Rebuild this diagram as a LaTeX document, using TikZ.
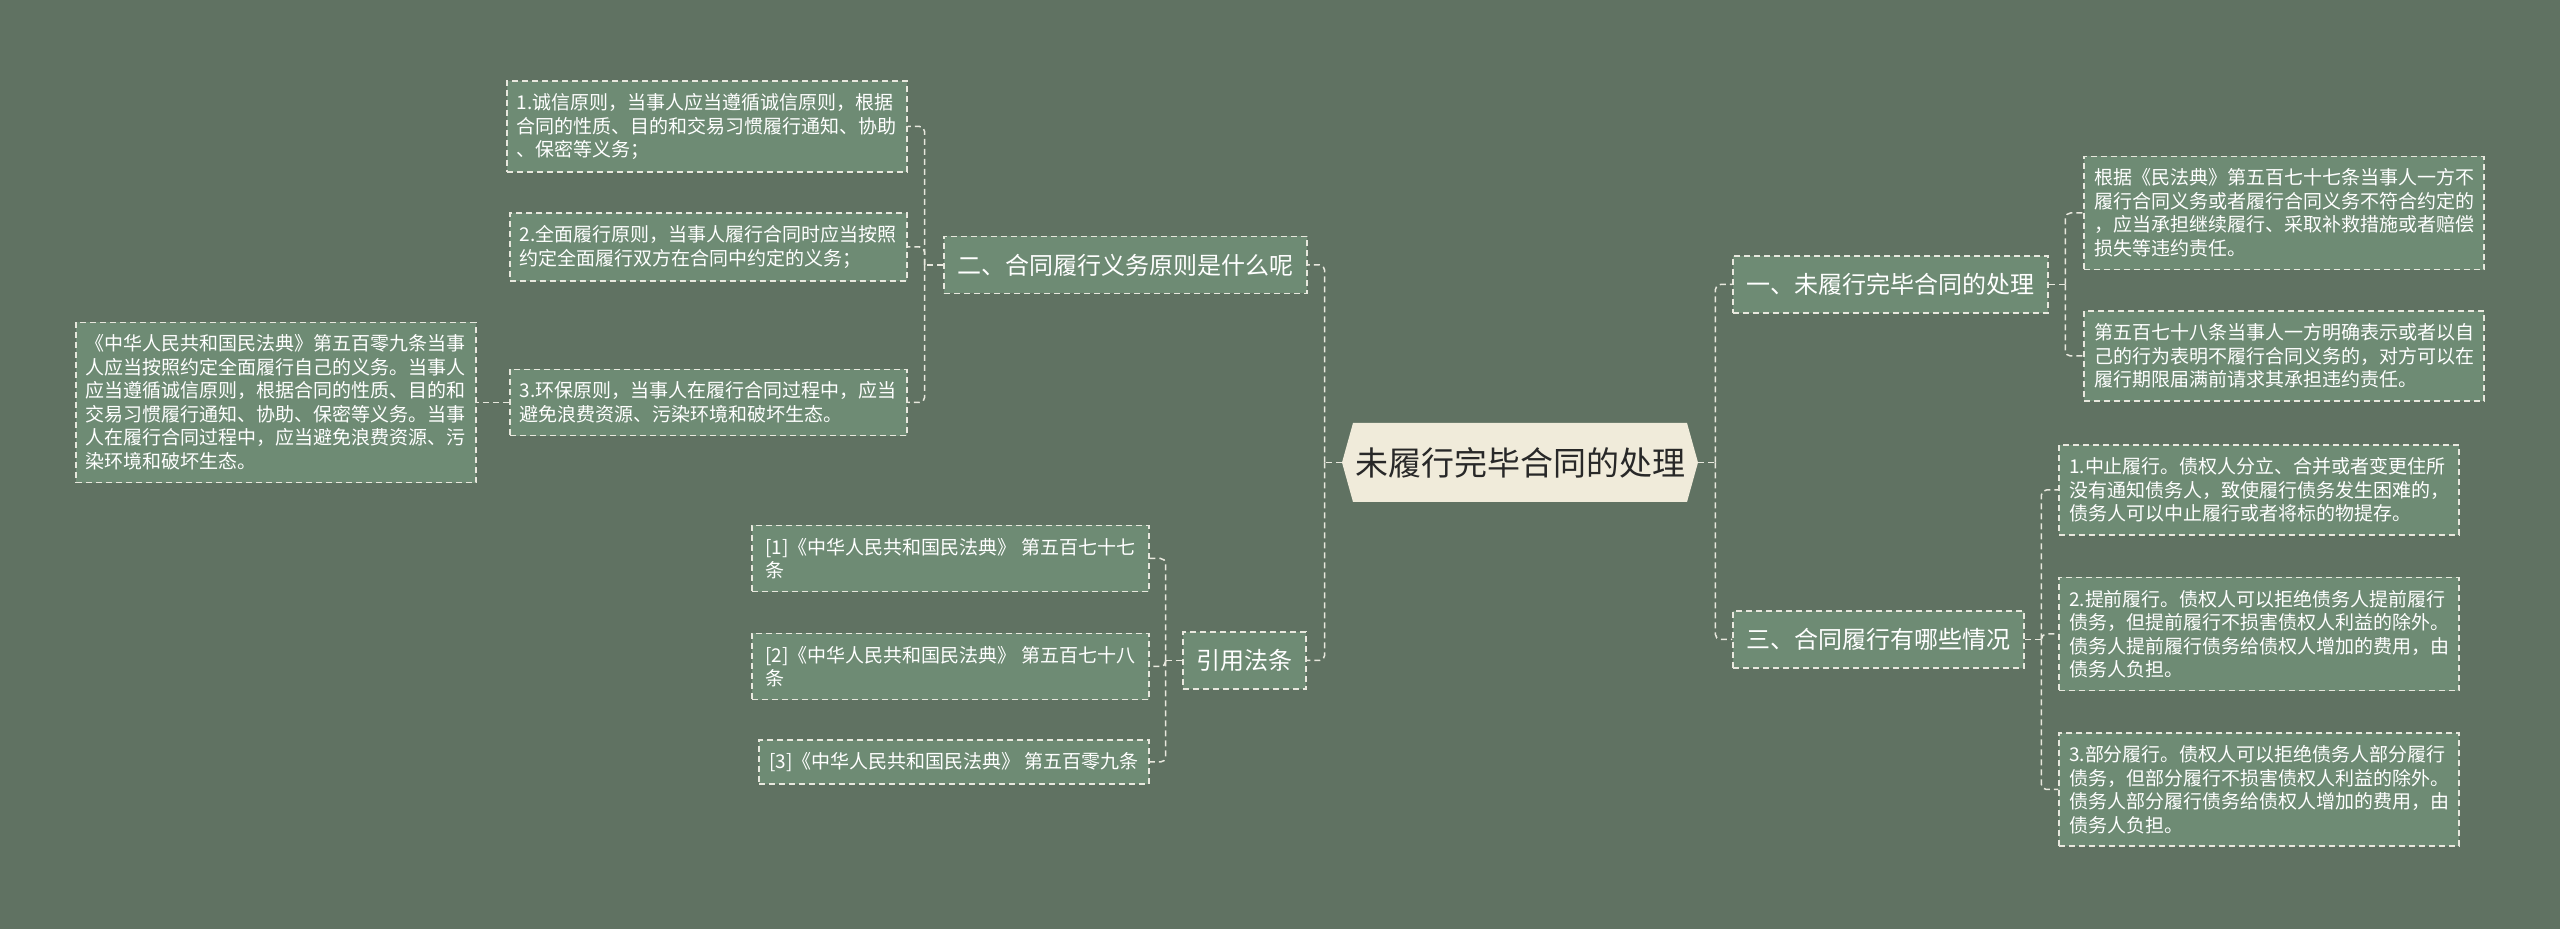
\documentclass[tikz,border=0pt]{standalone}
\usepackage{fontspec}
\setmainfont{Noto Sans CJK SC}
\usetikzlibrary{calc}
\definecolor{bgcol}{RGB}{96,114,98}
\definecolor{boxcol}{RGB}{110,139,116}
\definecolor{linecol}{RGB}{232,232,222}
\definecolor{rootfill}{RGB}{240,235,218}
\definecolor{roottext}{RGB}{40,40,40}
\tikzstyle{linkline} = [draw=linecol, line width=0.75pt, dash pattern=on 3pt off 2pt, rounded corners=2.5pt]
\tikzstyle{boxbase} = [draw=linecol, line width=0.75pt, dash pattern=on 3pt off 2pt, fill=boxcol, text=white]
\tikzstyle{topicnode} = [boxbase, font=\fontsize{12pt}{14pt}\selectfont, minimum height=28.5pt, inner xsep=6.75pt, inner ysep=0pt]
\tikzstyle{leafnode} = [boxbase, font=\fontsize{9.5pt}{11.75pt}\selectfont, align=left, minimum width=198.5pt, inner xsep=5pt, inner ysep=6.25pt]
\tikzstyle{rootnode} = [fill=bgcol, text=roottext, font=\fontsize{16.5pt}{20pt}\selectfont, minimum width=178pt, minimum height=39.5pt, inner xsep=4pt,
  path picture={\fill[rootfill] ([xshift=5.5pt]path picture bounding box.north west) -- ([xshift=-5.5pt]path picture bounding box.north east)
    -- (path picture bounding box.east) -- ([xshift=-5.5pt]path picture bounding box.south east)
    -- ([xshift=5.5pt]path picture bounding box.south west) -- (path picture bounding box.west) -- cycle;}]

\begin{document}
\begin{tikzpicture}[x=0.5pt, y=-0.5pt]
    \fill[bgcol] (0,0) rectangle (2560,929);
    \node[rootnode] (root) at (1520,462.5) {未履行完毕合同的处理};

    % left side
    \node[topicnode, anchor=east] (sec_two) at ($(root.west)+(-34,-197.5)$) {二、合同履行义务原则是什么呢};
    \node[topicnode, anchor=east] (sec_cite) at ($(root.west)+(-35,198)$) {引用法条};
    \node[leafnode, anchor=east] (prin_a) at ($(root.west)+(-434,-336)$) {1.诚信原则，当事人应当遵循诚信原则，根据\\合同的性质、目的和交易习惯履行通知、协助\\、保密等义务；};
    \node[leafnode, anchor=east] (prin_b) at ($(root.west)+(-434,-215.5)$) {2.全面履行原则，当事人履行合同时应当按照\\约定全面履行双方在合同中约定的义务；};
    \node[leafnode, anchor=east] (prin_c) at ($(root.west)+(-434,-60)$) {3.环保原则，当事人在履行合同过程中，应当\\避免浪费资源、污染环境和破坏生态。};
    \node[leafnode, anchor=east] (prin_note) at ($(root.west)+(-865,-60)$) {《中华人民共和国民法典》第五百零九条当事\\人应当按照约定全面履行自己的义务。当事人\\应当遵循诚信原则，根据合同的性质、目的和\\交易习惯履行通知、协助、保密等义务。当事\\人在履行合同过程中，应当避免浪费资源、污\\染环境和破坏生态。};
    \node[leafnode, anchor=east] (cite_a) at ($(root.west)+(-192,96)$) {[1]《中华人民共和国民法典》 第五百七十七\\条};
    \node[leafnode, anchor=east] (cite_b) at ($(root.west)+(-192,204)$) {[2]《中华人民共和国民法典》 第五百七十八\\条};
    \node[leafnode, anchor=east, minimum width=0pt] (cite_c) at ($(root.west)+(-192,299.5)$) {[3]《中华人民共和国民法典》 第五百零九条};

    % right side
    \node[topicnode, anchor=west] (sec_one) at ($(root.east)+(34,-178)$) {一、未履行完毕合同的处理};
    \node[topicnode, anchor=west] (sec_three) at ($(root.east)+(34,177)$) {三、合同履行有哪些情况};
    \node[leafnode, anchor=west] (brk_a) at ($(root.east)+(385,-249.5)$) {根据《民法典》第五百七十七条当事人一方不\\履行合同义务或者履行合同义务不符合约定的\\，应当承担继续履行、采取补救措施或者赔偿\\损失等违约责任。};
    \node[leafnode, anchor=west] (brk_b) at ($(root.east)+(385,-106.5)$) {第五百七十八条当事人一方明确表示或者以自\\己的行为表明不履行合同义务的，对方可以在\\履行期限届满前请求其承担违约责任。};
    \node[leafnode, anchor=west] (case_a) at ($(root.east)+(360,27.5)$) {1.中止履行。债权人分立、合并或者变更住所\\没有通知债务人，致使履行债务发生困难的，\\债务人可以中止履行或者将标的物提存。};
    \node[leafnode, anchor=west] (case_b) at ($(root.east)+(360,171.5)$) {2.提前履行。债权人可以拒绝债务人提前履行\\债务，但提前履行不损害债权人利益的除外。\\债务人提前履行债务给债权人增加的费用，由\\债务人负担。};
    \node[leafnode, anchor=west] (case_c) at ($(root.east)+(360,327)$) {3.部分履行。债权人可以拒绝债务人部分履行\\债务，但部分履行不损害债权人利益的除外。\\债务人部分履行债务给债权人增加的费用，由\\债务人负担。};

    % junctions
    \coordinate (root_lj) at ($(root.west)+(-17,0)$);
    \coordinate (root_rj) at ($(root.east)+(17,0)$);
    \coordinate (two_j) at ($(sec_two.west -| prin_a.east)+(17,0)$);
    \coordinate (cite_j) at ($(sec_cite.west -| cite_a.east)+(16,0)$);
    \coordinate (one_j) at ($(sec_one.east -| brk_a.west)+(-18,0)$);
    \coordinate (three_j) at ($(sec_three.east -| case_a.west)+(-17,0)$);

    \draw[linkline] (root.west) -- (root_lj);
    \draw[linkline] (root_lj) |- (sec_two.east);
    \draw[linkline] (root_lj) |- (sec_cite.east);
    \draw[linkline] (root.east) -- (root_rj);
    \draw[linkline] (root_rj) |- (sec_one.west);
    \draw[linkline] (root_rj) |- (sec_three.west);

    \draw[linkline] (sec_two.west) -- (two_j);
    \draw[linkline] (two_j) |- (prin_a.east);
    \draw[linkline] (two_j) |- (prin_b.east);
    \draw[linkline] (two_j) |- (prin_c.east);
    \draw[linkline] (prin_c.west) -- (prin_note.east);

    \draw[linkline] (sec_cite.west) -- (cite_j);
    \draw[linkline] (cite_j) |- (cite_a.east);
    \draw[linkline] (cite_j) |- (cite_b.east);
    \draw[linkline] (cite_j) |- (cite_c.east);

    \draw[linkline] (sec_one.east) -- (one_j);
    \draw[linkline] (one_j) |- (brk_a.west);
    \draw[linkline] (one_j) |- (brk_b.west);

    \draw[linkline] (sec_three.east) -- (three_j);
    \draw[linkline] (three_j) |- (case_a.west);
    \draw[linkline] (three_j) |- (case_b.west);
    \draw[linkline] (three_j) |- (case_c.west);
\end{tikzpicture}
\end{document}
